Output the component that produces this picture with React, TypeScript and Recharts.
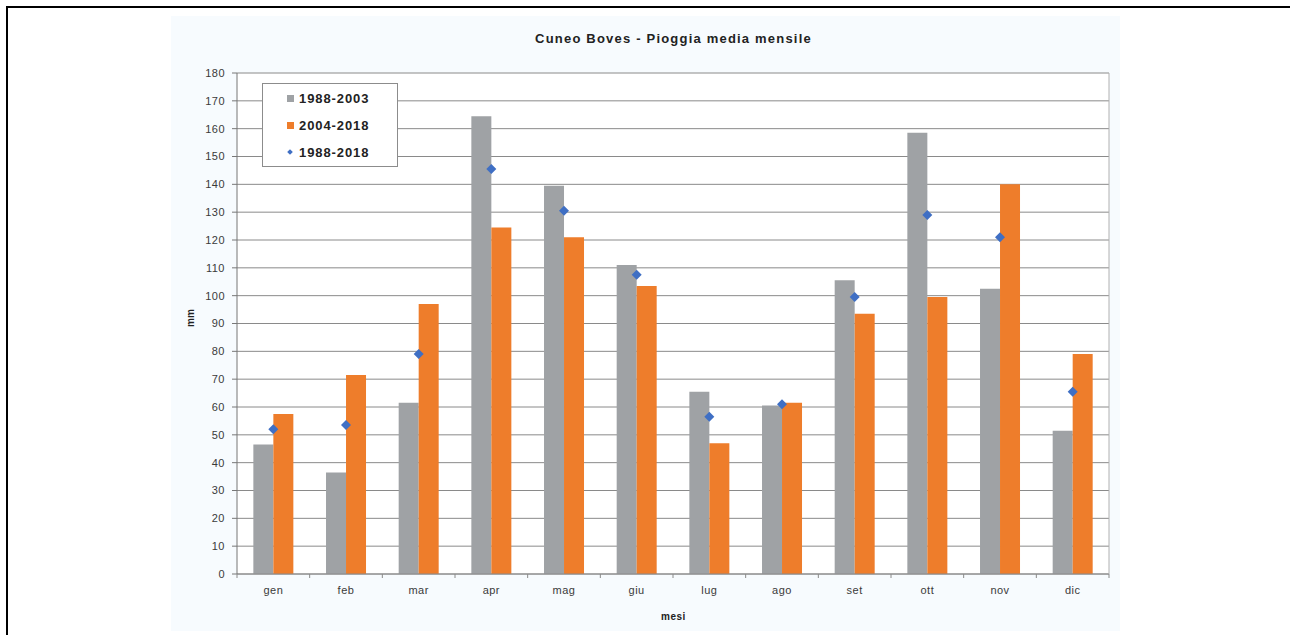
import {
  ComposedChart,
  Bar,
  Scatter,
  XAxis,
  YAxis,
  CartesianGrid,
} from 'recharts';

const months = ['gen', 'feb', 'mar', 'apr', 'mag', 'giu', 'lug', 'ago', 'set', 'ott', 'nov', 'dic'];
const rain8803 = [46.5, 36.5, 61.5, 164.5, 139.5, 111, 65.5, 60.5, 105.5, 158.5, 102.5, 51.5];
const rain0418 = [57.5, 71.5, 97, 124.5, 121, 103.5, 47, 61.5, 93.5, 99.5, 140, 79];
const rain8818 = [52, 53.5, 79, 145.5, 130.5, 107.5, 56.5, 61, 99.5, 129, 121, 65.5];
const yTicks = [0, 10, 20, 30, 40, 50, 60, 70, 80, 90, 100, 110, 120, 130, 140, 150, 160, 170, 180];

const GRAY = '#9fa2a5';
const ORANGE = '#ee7d2b';
const BLUE = '#3f6fc4';
const GRID = '#8a8a8a';
const TEXT = '#3a3a3a';
const FONT = '"Liberation Sans", Arial, sans-serif';

const W = 1290;
const H = 635;
const PLOT_LEFT = 237;
const PLOT_RIGHT = 1110;
const PLOT_TOP = 73;
const PLOT_BOTTOM = 574;

const rows = months.map((m, i) => ({
  mese: m,
  a: rain8803[i],
  b: rain0418[i],
  c: rain8818[i],
}));

function MonthTick(props: any) {
  const { x, y, payload, index } = props;
  const half = payload?.offset || (PLOT_RIGHT - PLOT_LEFT) / months.length / 2;
  return (
    <g>
      <line x1={x - half} x2={x - half} y1={y} y2={y + 4} stroke={GRID} />
      {index === months.length - 1 && (
        <line x1={x + half} x2={x + half} y1={y} y2={y + 4} stroke={GRID} />
      )}
      <text
        x={x}
        y={y + 12}
        dy="0.71em"
        textAnchor="middle"
        fill={TEXT}
        fontSize={11}
        letterSpacing={0.5}
        fontFamily={FONT}
      >
        {payload.value}
      </text>
    </g>
  );
}

function Diamond(props: any) {
  const { cx, cy } = props;
  const r = 5;
  return (
    <polygon
      points={`${cx},${cy - r} ${cx + r},${cy} ${cx},${cy + r} ${cx - r},${cy}`}
      fill={BLUE}
    />
  );
}

function LegendBox() {
  const items = [
    { label: '1988-2003', color: GRAY, kind: 'sq' },
    { label: '2004-2018', color: ORANGE, kind: 'sq' },
    { label: '1988-2018', color: BLUE, kind: 'dia' },
  ];
  return (
    <div
      style={{
        position: 'absolute',
        left: 262,
        top: 83,
        width: 134,
        height: 82,
        background: '#fff',
        border: '1px solid #8c8c8c',
        fontFamily: FONT,
        fontWeight: 700,
        fontSize: 13,
        letterSpacing: 0.9,
        color: '#222',
      }}
    >
      {items.map((it, i) => (
        <div
          key={it.label}
          style={{
            position: 'absolute',
            left: 24,
            top: 6 + i * 27,
            height: 16,
            display: 'flex',
            alignItems: 'center',
          }}
        >
          {it.kind === 'sq' ? (
            <span style={{ width: 7, height: 7, background: it.color, marginRight: 5 }} />
          ) : (
            <span
              style={{
                width: 4,
                height: 4,
                background: it.color,
                transform: 'rotate(45deg)',
                marginLeft: 1,
                marginRight: 7,
              }}
            />
          )}
          {it.label}
        </div>
      ))}
    </div>
  );
}

export default function App() {
  return (
    <div style={{ position: 'absolute', left: 0, top: 0, width: W, height: H, background: '#fff', overflow: 'hidden' }}>
      <div
        style={{
          position: 'absolute',
          left: 6,
          top: 6,
          right: 0,
          bottom: -4,
          borderLeft: '2px solid #000',
          borderTop: '2px solid #000',
        }}
      />
      <div
        style={{
          position: 'absolute',
          left: 171,
          top: 16,
          width: 949,
          height: 615,
          background: '#f7fbfe',
        }}
      />
      <div
        style={{
          position: 'absolute',
          left: PLOT_LEFT,
          width: PLOT_RIGHT - PLOT_LEFT,
          top: 31,
          textAlign: 'center',
          fontFamily: FONT,
          fontWeight: 700,
          fontSize: 13,
          letterSpacing: 1.2,
          color: '#222',
        }}
      >
        Cuneo Boves - Pioggia media mensile
      </div>
      <div style={{ position: 'absolute', left: 0, top: 0 }}>
        <ComposedChart
          width={W}
          height={H}
          data={rows}
          margin={{ top: PLOT_TOP, right: W - PLOT_RIGHT, left: PLOT_LEFT - 30, bottom: H - PLOT_BOTTOM - 30 }}
          barCategoryGap="22.5%"
          barGap={0}
        >
          <CartesianGrid vertical={false} stroke={GRID} fill="#fff" />
          <XAxis
            dataKey="mese"
            height={30}
            axisLine={{ stroke: GRID }}
            tickLine={false}
            tickSize={0}
            tickMargin={0}
            tick={<MonthTick />}
            interval={0}
          />
          <YAxis
            width={30}
            domain={[0, 180]}
            ticks={yTicks}
            interval={0}
            axisLine={{ stroke: '#777' }}
            tickLine={{ stroke: '#777' }}
            tickSize={5}
            tickMargin={7}
            tick={{ fill: TEXT, fontSize: 11, fontFamily: FONT, letterSpacing: 0.5 }}
          />
          <YAxis
            yAxisId="r"
            orientation="right"
            width={1}
            domain={[0, 180]}
            tick={false}
            tickLine={false}
            axisLine={{ stroke: '#b0b0b0' }}
          />
          <Bar dataKey="a" name="1988-2003" fill={GRAY} isAnimationActive={false} />
          <Bar dataKey="b" name="2004-2018" fill={ORANGE} isAnimationActive={false} />
          <Scatter dataKey="c" name="1988-2018" shape={<Diamond />} isAnimationActive={false} />
        </ComposedChart>
      </div>
      <LegendBox />
      <div
        style={{
          position: 'absolute',
          left: 190,
          top: 318,
          transform: 'translate(-50%, -50%) rotate(-90deg)',
          fontFamily: FONT,
          fontWeight: 700,
          fontSize: 10,
          color: '#222',
        }}
      >
        mm
      </div>
      <div
        style={{
          position: 'absolute',
          left: PLOT_LEFT,
          width: PLOT_RIGHT - PLOT_LEFT,
          top: 611,
          textAlign: 'center',
          fontFamily: FONT,
          fontWeight: 700,
          fontSize: 10,
          letterSpacing: 0.5,
          color: '#222',
        }}
      >
        mesi
      </div>
    </div>
  );
}
